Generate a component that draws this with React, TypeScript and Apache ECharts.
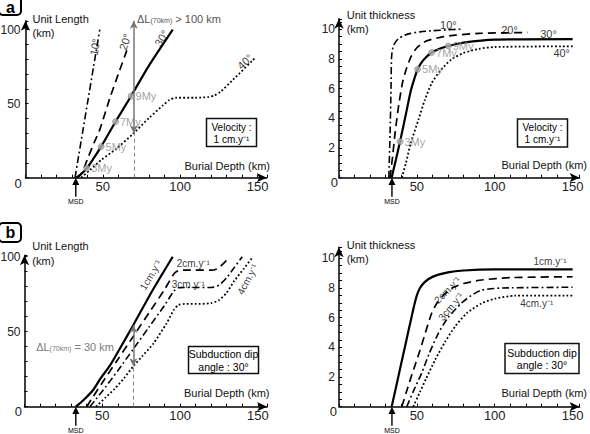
import React, { useEffect, useRef } from 'react';
import * as echarts from 'echarts';

type Pt = [number, number];
const FONT = '"Liberation Sans", Arial, Helvetica, sans-serif';

// (a) left: unit length (km) against burial depth (km), velocity 1 cm/yr, per dip angle
const lengthDip10: Pt[] = [[32, 0], [33.6, 10], [36.8, 30], [40, 50], [44, 75], [48, 100]];
const lengthDip20: Pt[] = [[33, 0], [36.3, 3], [40.6, 14], [44.5, 24], [48.2, 33], [54.6, 54], [60, 70], [65.5, 86]];
const lengthDip30: Pt[] = [[33, 0], [36, 2.5], [39.6, 6.3], [44, 13], [48.9, 21], [58.2, 37.8], [68.3, 55.2], [80, 76], [95.2, 100]];
const lengthDip40: Pt[] = [[36, 0], [42, 5.5], [49, 12], [58.6, 19.5], [69.4, 29.5], [80, 40.5], [89, 49], [93, 52.5], [97, 54], [110, 54], [118, 54.5], [122, 55.5], [126, 58], [134, 66], [149, 81.5]];

// (a) right: unit thickness (km) against burial depth (km), velocity 1 cm/yr, per dip angle
const thickDip10: Pt[] = [[32, 0], [32.8, 3], [33.4, 6], [33.8, 8.2], [35, 8.9], [38, 9.35], [42, 9.58], [46, 9.72], [52, 9.82], [60, 9.9], [70, 9.96], [78, 10]];
const thickDip20: Pt[] = [[32.8, 0], [34.5, 1.5], [36, 3], [38.5, 5], [41, 6.5], [43.5, 7.4], [46.5, 8.2], [50, 8.75], [56, 9.2], [65, 9.45], [75, 9.6], [90, 9.72], [121, 9.78]];
const thickDip30: Pt[] = [[33.8, 0], [36.5, 1.2], [39.2, 2.43], [43, 4.3], [46, 5.8], [48.5, 6.7], [50.5, 7.3], [54, 7.9], [59.5, 8.43], [65, 8.7], [70.2, 8.87], [80, 9.1], [100, 9.3], [150, 9.33]];
const thickDip40: Pt[] = [[40.3, 0], [43, 1], [46, 2.3], [51, 3.9], [55, 5.2], [59.5, 6.36], [65, 7.2], [72, 7.95], [80, 8.4], [90, 8.68], [100, 8.8], [150, 8.85]];

// Ages along the 30° / 1 cm/yr path
const ageLabels = ['3My', '5My', '7My', '9My'];
const ageLengthPts: Pt[] = [[39.6, 6.3], [48.9, 21], [58.2, 37.8], [68.3, 55.2]];
const ageThickPts: Pt[] = [[39.2, 2.43], [50.5, 7.3], [59.5, 8.43], [70.2, 8.87]];

// (b) left: unit length (km) against burial depth (km), dip 30°, per velocity
const lengthV1: Pt[] = [[33, 0], [38, 4.5], [44, 11], [49, 19], [55, 27.5], [62, 40], [70, 54.5], [82, 77], [95.3, 100]];
const lengthV2: Pt[] = [[40, 0], [44, 6.5], [50, 16], [60, 31.5], [70, 47], [80, 62.5], [90, 78], [96, 88.5], [99, 90.8], [103, 91], [110, 91], [120, 91], [124, 92], [128, 95.5], [132, 100]];
const lengthV3: Pt[] = [[42, 0], [46, 5], [52, 13], [60, 24], [70, 38.5], [80, 53], [90, 67.5], [96, 77], [99, 79.3], [103, 79.5], [110, 79.5], [120, 79.5], [125, 81], [130, 86], [135, 93], [140, 100]];
const lengthV4: Pt[] = [[46, 0], [52, 6], [58, 12], [64, 19], [70, 27], [76, 34], [82.8, 42], [91.4, 55.6], [96, 64.5], [99, 67.8], [103, 68.5], [110, 68.5], [120, 69], [125, 71], [130, 76], [135, 84], [141, 92], [147, 100]];

// (b) right: unit thickness (km) against burial depth (km), dip 30°, per velocity
const thickV1: Pt[] = [[33.8, 0], [37, 1.5], [41, 3.4], [45, 5.3], [48, 6.7], [50, 7.5], [52, 8.0], [55, 8.4], [60, 8.75], [70, 9.05], [80, 9.18], [100, 9.25], [150, 9.25]];
const thickV2: Pt[] = [[40.3, 0], [43, 0.9], [46, 1.9], [49, 2.85], [52, 3.8], [55.5, 5], [59.5, 6.3], [63, 7], [67, 7.5], [72.4, 7.98], [80, 8.3], [91.6, 8.54], [110, 8.7], [150, 8.76]];
const thickV3: Pt[] = [[43.5, 0], [48, 1.1], [53, 2.25], [58, 3.6], [63.8, 4.95], [70, 6], [78.5, 6.97], [85, 7.5], [91.6, 7.86], [105, 8], [150, 8.05]];
const thickV4: Pt[] = [[47.7, 0], [52, 1], [56, 1.9], [61.7, 3.15], [68, 4.35], [74.5, 5.4], [82, 6.3], [91.6, 6.97], [100, 7.28], [113, 7.48], [150, 7.48]];

// Minimum subduction depth per panel (km) and the ΔL measurement at 70 km
const msdDepth = [32.5, 34, 33, 34];
const deltaDepth = 70;
const deltaA: Pt = [30, 106];
const deltaB: Pt = [27, 54.5];

// Tick labels
const xTickLabels = [50, 100, 150];
const lengthTickLabels = [50, 100];
const thickTickLabels = [2, 4, 6, 8, 10];

// Curve tags: [text, depth, value, rotation]
type Tag = [string, number, number, number];
const tagsA1: Tag[] = [['10°', 44.9, 88.3, 80], ['20°', 64.4, 91.7, 72], ['30°', 88, 94.2, 58], ['40°', 141.9, 78.4, 42]];
const tagsA2: Tag[] = [['10°', 70.2, 10.29, 0], ['20°', 109.5, 9.95, 0], ['30°', 134.5, 9.65, 0], ['40°', 143, 8.38, 0]];
const tagsB1: Tag[] = [['1cm.y⁻¹', 81.2, 87.8, 59], ['2cm.y⁻¹', 108.5, 95.6, 0], ['3cm.y⁻¹', 105.3, 81.3, 0], ['4cm.y⁻¹', 143.5, 85, 62]];
const tagsB2: Tag[] = [['1cm.y⁻¹', 135.5, 9.77, 0], ['2cm.y⁻¹', 69.6, 7.86, 45], ['3cm.y⁻¹', 71.9, 6.74, 50], ['4cm.y⁻¹', 127, 6.97, 0]];

const STYLE: Record<string, any> = {
  solid: { type: 'solid', width: 2.2, color: '#000' },
  dashed: { type: [8, 5], width: 1.7, color: '#000' },
  dashdot: { type: [7, 3, 1.8, 3], width: 1.6, color: '#000' },
  dotted: { type: [1.8, 2.2], width: 1.8, color: '#000' },
};

const ARROW_PATH = 'path://M5,0 L10,10 L6,10 L6,26 L4,26 L4,10 L0,10 Z';

function curve(data: Pt[], panel: number, style: string, extra: any = {}) {
  return {
    type: 'line',
    xAxisIndex: panel,
    yAxisIndex: panel,
    data,
    showSymbol: false,
    smooth: 0.22,
    silent: true,
    lineStyle: STYLE[style],
    z: 3,
    ...extra,
  };
}

function msdMark(panel: number) {
  return {
    silent: true,
    symbol: ARROW_PATH,
    symbolSize: [7, 19],
    symbolOffset: [0, 9.5],
    itemStyle: { color: '#000' },
    label: { show: true, position: 'bottom', distance: 1, formatter: 'MSD', fontSize: 7, color: '#000', fontFamily: FONT },
    data: [{ coord: [msdDepth[panel], 0] }],
  };
}

function tagSeries(panel: number, tags: Tag[], fontSize: number) {
  return {
    type: 'scatter',
    xAxisIndex: panel,
    yAxisIndex: panel,
    symbolSize: 1,
    silent: true,
    itemStyle: { color: 'transparent' },
    label: { show: true, position: 'inside', formatter: '{b}', color: '#000', fontSize, fontFamily: FONT },
    data: tags.map(([t, x, y, r]) => ({ name: t, value: [x, y], label: { rotate: r } })),
    z: 4,
  };
}

function ageSeries(panel: number, pts: Pt[]) {
  return {
    type: 'scatter',
    xAxisIndex: panel,
    yAxisIndex: panel,
    symbol: 'circle',
    symbolSize: 6,
    silent: true,
    itemStyle: { color: '#b0b0b0', borderColor: '#808080', borderWidth: 0.8 },
    label: { show: true, position: 'right', distance: 1, formatter: '{b}', color: '#8a8a8a', fontSize: 11, fontFamily: FONT },
    data: pts.map((p, i) => ({ name: ageLabels[i], value: p })),
    z: 5,
  };
}

function deltaArrow(lo: number, hi: number) {
  return {
    silent: true,
    symbol: ['arrow', 'arrow'],
    symbolSize: [6, 8],
    label: { show: false },
    lineStyle: { color: '#777', width: 1.5, type: 'solid' },
    data: [[{ coord: [deltaDepth, lo] }, { coord: [deltaDepth, hi] }]],
  };
}

function deltaGuide(lo: number) {
  return {
    silent: true,
    symbol: ['none', 'none'],
    label: { show: false },
    lineStyle: { color: '#888', width: 1, type: [4, 3] },
    data: [[{ coord: [deltaDepth, 0] }, { coord: [deltaDepth, lo] }]],
  };
}

function xAxis(gi: number, max: number) {
  return {
    type: 'value',
    gridIndex: gi,
    min: 0,
    max,
    interval: 10,
    axisLine: { show: true, onZero: false, symbol: ['none', 'arrow'], symbolSize: [7, 10], lineStyle: { color: '#000', width: 1.5 } },
    axisTick: { show: true, inside: true, length: 3, lineStyle: { color: '#000', width: 1 } },
    axisLabel: {
      formatter: (v: number) => (xTickLabels.indexOf(Math.round(v * 1000) / 1000) >= 0 ? String(v) : ''),
      fontSize: 13, color: '#222', margin: 2, fontFamily: FONT,
    },
    splitLine: { show: false },
  };
}

function yAxis(gi: number, max: number, interval: number, labels: number[], margin: number, fontSize: number) {
  return {
    type: 'value',
    gridIndex: gi,
    min: 0,
    max,
    interval,
    axisLine: { show: true, onZero: false, symbol: ['none', 'arrow'], symbolSize: [7, 10], lineStyle: { color: '#000', width: 1.5 } },
    axisTick: { show: true, inside: true, length: 3, lineStyle: { color: '#000', width: 1 } },
    axisLabel: {
      formatter: (v: number) => (labels.indexOf(Math.round(v * 1000) / 1000) >= 0 ? String(v) : ''),
      fontSize, color: '#222', margin, fontFamily: FONT,
    },
    splitLine: { show: false },
  };
}

function text(x: number, y: number, t: string, extra: any = {}) {
  const align = extra.align || 'left';
  return {
    type: 'text',
    x,
    y,
    silent: true,
    z: 10,
    style: {
      text: t,
      fontFamily: FONT,
      fontSize: 11,
      fill: '#111',
      align,
      textAlign: align,
      verticalAlign: 'middle',
      textVerticalAlign: 'middle',
      ...extra,
    },
  };
}

function box(x: number, y: number, w: number, h: number, t: string, fontSize: number) {
  return [
    { type: 'rect', silent: true, z: 9, shape: { x, y, width: w, height: h }, style: { fill: '#fff', stroke: '#111', lineWidth: 1.5 } },
    text(x + w / 2, y + h / 2 + 0.5, t, { align: 'center', fontSize, lineHeight: fontSize + 2, fill: '#000' }),
  ];
}

function panelLetter(y: number, h: number, letter: string, cy: number) {
  return [
    { type: 'rect', silent: true, z: 9, shape: { x: -1, y, width: 22, height: h, r: 4 }, style: { fill: '#fff', stroke: '#000', lineWidth: 2 } },
    text(10.5, cy, letter, { align: 'center', fontSize: 16, fontWeight: 'bold', fill: '#000' }),
  ];
}

function buildOption() {
  const series: any[] = [
    // (a) left
    curve(lengthDip10, 0, 'dashdot'),
    curve(lengthDip20, 0, 'dashed'),
    curve(lengthDip30, 0, 'solid', { markPoint: msdMark(0), markLine: deltaArrow(deltaA[0], deltaA[1]) }),
    curve(lengthDip40, 0, 'dotted', { markLine: deltaGuide(deltaA[0]) }),
    ageSeries(0, ageLengthPts),
    tagSeries(0, tagsA1, 11),
    // (a) right
    curve(thickDip10, 1, 'dashdot'),
    curve(thickDip20, 1, 'dashed'),
    curve(thickDip30, 1, 'solid', { markPoint: msdMark(1) }),
    curve(thickDip40, 1, 'dotted'),
    ageSeries(1, ageThickPts),
    tagSeries(1, tagsA2, 11),
    // (b) left
    curve(lengthV1, 2, 'solid', { markPoint: msdMark(2), markLine: deltaArrow(deltaB[0], deltaB[1]) }),
    curve(lengthV2, 2, 'dashed'),
    curve(lengthV3, 2, 'dashdot'),
    curve(lengthV4, 2, 'dotted', { markLine: deltaGuide(deltaB[0]) }),
    tagSeries(2, tagsB1, 10),
    // (b) right
    curve(thickV1, 3, 'solid', { markPoint: msdMark(3) }),
    curve(thickV2, 3, 'dashed'),
    curve(thickV3, 3, 'dashdot'),
    curve(thickV4, 3, 'dotted'),
    tagSeries(3, tagsB2, 10),
  ];

  const subRich = {
    m: { fontSize: 11, fill: '#555', color: '#555', fontFamily: FONT },
    s: { fontSize: 7, fill: '#555', color: '#555', fontFamily: FONT, padding: [3, 0, 0, 0] },
  };
  const subRichB = {
    m: { fontSize: 11, fill: '#7a7a7a', color: '#7a7a7a', fontFamily: FONT },
    s: { fontSize: 7, fill: '#7a7a7a', color: '#7a7a7a', fontFamily: FONT, padding: [3, 0, 0, 0] },
  };

  const graphic: any[] = [
    ...panelLetter(-8, 23, 'a', 7),
    ...panelLetter(223, 19, 'b', 232.5),
    // axis titles
    text(32.5, 18.5, 'Unit Length'),
    text(32.5, 33, '(km)'),
    text(346.7, 14.5, 'Unit thickness'),
    text(346.7, 28.8, '(km)'),
    text(32.3, 246, 'Unit Length'),
    text(32.3, 261, '(km)'),
    text(346.7, 244.7, 'Unit thickness'),
    text(346.7, 259.2, '(km)'),
    text(270, 165.7, 'Burial Depth (km)', { align: 'right' }),
    text(587, 165, 'Burial Depth (km)', { align: 'right' }),
    text(269.5, 393.3, 'Burial Depth (km)', { align: 'right' }),
    text(587, 393.3, 'Burial Depth (km)', { align: 'right' }),
    // origin labels
    text(18, 183.3, '0', { align: 'center', fontSize: 13, fill: '#222' }),
    text(334.3, 182.7, '0', { align: 'center', fontSize: 13, fill: '#222' }),
    text(18.3, 411.7, '0', { align: 'center', fontSize: 13, fill: '#222' }),
    text(333.3, 411.7, '0', { align: 'center', fontSize: 13, fill: '#222' }),
    // ΔL annotations
    text(137, 19, '{m|ΔL}{s|(70km)}{m| > 100 km}', { rich: subRich }),
    text(75, 346.7, '{m|ΔL}{s|(70km)}{m| = 30 km}', { align: 'center', rich: subRichB }),
    // parameter boxes
    ...box(206.5, 118.5, 50, 28, 'Velocity :\n1 cm.y⁻¹', 10),
    ...box(517.5, 119, 50, 28, 'Velocity :\n1 cm.y⁻¹', 10),
    ...box(188.5, 346.5, 70, 27, 'Subduction dip\nangle : 30°', 10.5),
    ...box(505, 343.5, 74, 30, 'Subduction dip\nangle : 30°', 10.5),
  ];

  return {
    animation: false,
    backgroundColor: '#fff',
    textStyle: { fontFamily: FONT },
    grid: [
      { left: 25.5, top: 20.8, width: 241.3, height: 156.9, outerBoundsMode: 'none' },
      { left: 339, top: 18.8, width: 240.6, height: 158.9, outerBoundsMode: 'none' },
      { left: 24.5, top: 255.2, width: 242.6, height: 151.5, outerBoundsMode: 'none' },
      { left: 339, top: 247.2, width: 240.6, height: 159.5, outerBoundsMode: 'none' },
    ],
    xAxis: [xAxis(0, 156), xAxis(1, 154.5), xAxis(2, 156), xAxis(3, 154.5)],
    yAxis: [
      yAxis(0, 106, 10, lengthTickLabels, 5, 12),
      yAxis(1, 10.7, 0.5, thickTickLabels, 4, 12),
      yAxis(2, 101, 10, lengthTickLabels, 4, 12),
      yAxis(3, 10.75, 0.5, thickTickLabels, 4, 12),
    ],
    series,
    graphic,
  };
}

export default function App() {
  const ref = useRef<HTMLDivElement>(null);
  useEffect(() => {
    if (!ref.current) return;
    const chart = echarts.init(ref.current, null, { renderer: 'svg' });
    chart.setOption(buildOption() as any);
    return () => chart.dispose();
  }, []);
  return (
    <div
      ref={ref}
      style={{ position: 'absolute', left: 0, top: 0, width: 590, height: 434, background: '#fff' }}
    />
  );
}
